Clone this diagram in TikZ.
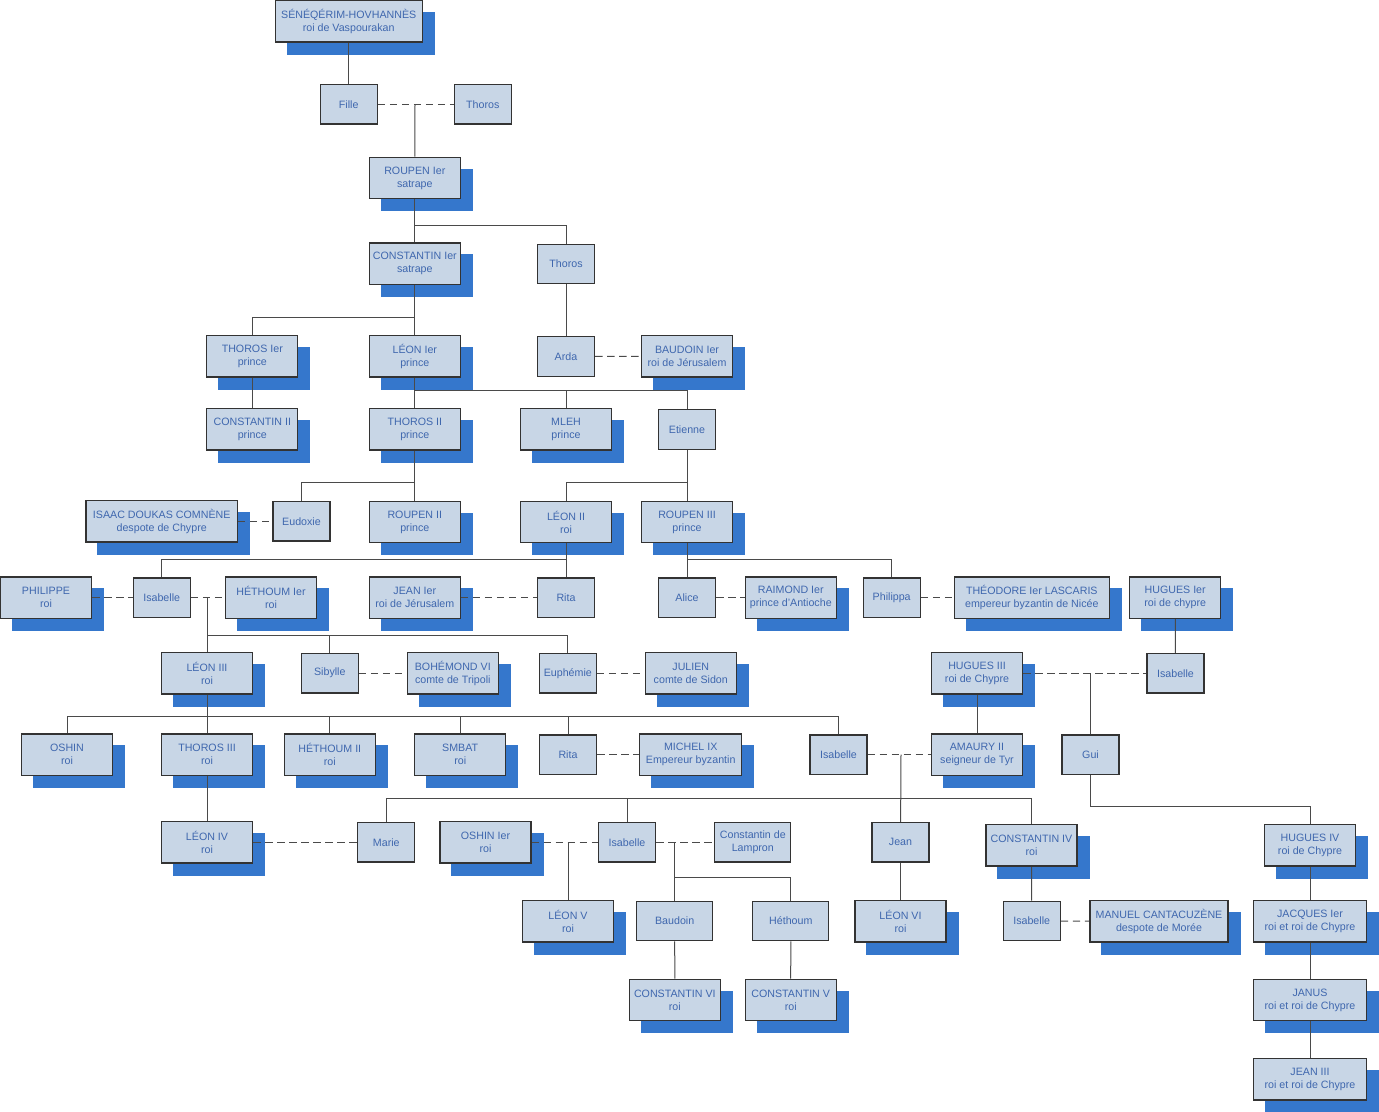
\documentclass[tikz,border=0pt]{standalone}
\usepackage{fontspec}
\setmainfont{Liberation Sans}
\usetikzlibrary{backgrounds}

\definecolor{boxc}{HTML}{C8D6E6}
\definecolor{shadc}{HTML}{3577CC}
\definecolor{txtc}{HTML}{3F67AE}
\definecolor{edgec}{HTML}{333333}
\definecolor{linkc}{HTML}{4A4A4A}

\tikzset{every picture/.style={line width=0.75pt}}
\tikzset{
  person/.style={draw=edgec, line width=1pt, fill=boxc, text=txtc, align=center, inner sep=1pt,
    font=\fontsize{8}{9.75}\selectfont, minimum width=91*0.75pt, minimum height=41.5*0.75pt},
  single/.style={person, minimum width=57*0.75pt, minimum height=39.5*0.75pt},
  bw/.style={minimum width=#1*0.75pt},
  kin/.style={draw=linkc, line width=0.75pt},
  spouse/.style={draw=linkc, line width=0.75pt, dash pattern={on 5.5pt off 3.5pt}}
}

\begin{document}
\begin{tikzpicture}[x=0.75pt,y=0.75pt,yscale=-1,xscale=1]
		\useasboundingbox (0,0) rectangle (1379,1112);
		
		% Persons, top rows
		\node[person, bw=147] (sen) at (348.7,21.2) {SÉNÉQÉRIM-HOVHANNÈS\\roi de Vaspourakan};
		\node[single] (fille) at (348.7,104.2) {Fille};
		\node[single] (thoros0) at (482.8,104.2) {Thoros};
		\node[person] (roupen1) at (414.8,178) {ROUPEN Ier\\satrape};
		\node[person] (const1) at (414.8,263.7) {CONSTANTIN Ier\\satrape};
		\node[single] (thorosB) at (566,264) {Thoros};
		\node[person] (thoros1) at (252.3,356.3) {THOROS Ier\\prince};
		\node[person] (leon1) at (414.8,356.3) {LÉON Ier\\prince};
		\node[single] (arda) at (566,356.5) {Arda};
		\node[person] (baudoin1) at (687,356.3) {BAUDOIN Ier\\roi de Jérusalem};
		\node[person] (const2) at (252.3,429.2) {CONSTANTIN II\\prince};
		\node[person] (thoros2) at (414.8,429.2) {THOROS II\\prince};
		\node[person] (mleh) at (566,429.2) {MLEH\\prince};
		\node[single] (etienne) at (687,429.5) {Etienne};
		\node[person, bw=151.3] (isaac) at (161.7,521.3) {ISAAC DOUKAS COMNÈNE\\despote de Chypre};
		\node[single] (eudoxie) at (301.5,521.3) {Eudoxie};
		\node[person] (roupen2) at (414.8,522) {ROUPEN II\\prince};
		\node[person] (leon2) at (566,522) {LÉON II\\roi};
		\node[person] (roupen3) at (687,522) {ROUPEN III\\prince};
		
		% Persons, middle rows
		\node[person] (philippe) at (46,597.6) {PHILIPPE\\roi};
		\node[single] (isabelle1) at (161.7,597.6) {Isabelle};
		\node[person] (hethoum1) at (271,597.6) {HÉTHOUM Ier\\roi};
		\node[person] (jean1) at (414.8,597.6) {JEAN Ier\\roi de Jérusalem};
		\node[single] (rita1) at (566,597.6) {Rita};
		\node[single] (alice) at (687,597.6) {Alice};
		\node[person] (raimond) at (790.8,597.6) {RAIMOND Ier\\prince d'Antioche};
		\node[single] (philippa) at (891.7,597.6) {Philippa};
		\node[person, bw=155] (theodore) at (1031.8,597.6) {THÉODORE Ier LASCARIS\\empereur byzantin de Nicée};
		\node[person] (hugues1) at (1175.2,597.6) {HUGUES Ier\\roi de chypre};
		\node[person] (leon3) at (207,673.2) {LÉON III\\roi};
		\node[single] (sibylle) at (329.8,673.2) {Sibylle};
		\node[person] (bohemond) at (452.8,673.2) {BOHÉMOND VI\\comte de Tripoli};
		\node[single] (euphemie) at (567.8,673.2) {Euphémie};
		\node[person] (julien) at (690.8,673.2) {JULIEN\\comte de Sidon};
		\node[person] (hugues3) at (977,673.3) {HUGUES III\\roi de Chypre};
		\node[single] (isabelle2) at (1175.5,673.3) {Isabelle};
		\node[person] (oshin) at (67,754.7) {OSHIN\\roi};
		\node[person] (thoros3) at (207,754.7) {THOROS III\\roi};
		\node[person] (hethoum2) at (329.8,754.7) {HÉTHOUM II\\roi};
		\node[person] (smbat) at (460.2,754.7) {SMBAT\\roi};
		\node[single] (rita2) at (568,754.7) {Rita};
		\node[person, bw=102] (michel) at (690.7,754.7) {MICHEL IX\\Empereur byzantin};
		\node[single] (isabelle3) at (838.5,754.7) {Isabelle};
		\node[person] (amaury) at (977,754.7) {AMAURY II\\seigneur de Tyr};
		\node[single] (gui) at (1090.5,754.7) {Gui};
		
		% Persons, bottom rows
		\node[person] (leon4) at (207,842.3) {LÉON IV\\roi};
		\node[single] (marie) at (386.3,842.3) {Marie};
		\node[person] (oshin1) at (485.5,842.3) {OSHIN Ier\\roi};
		\node[single] (isabelle4) at (627,842.3) {Isabelle};
		\node[single, bw=76] (constlamp) at (752.8,842.3) {Constantin de\\Lampron};
		\node[single] (jean) at (900.5,842.3) {Jean};
		\node[person] (const4) at (1031.5,845.3) {CONSTANTIN IV\\roi};
		\node[person] (hugues4) at (1310,845.3) {HUGUES IV\\roi de Chypre};
		\node[person] (leon5) at (568,921.3) {LÉON V\\roi};
		\node[single, bw=76] (baudoin) at (674.7,921) {Baudoin};
		\node[single, bw=76] (hethoum) at (790.8,921) {Héthoum};
		\node[person] (leon6) at (900.5,921.3) {LÉON VI\\roi};
		\node[single] (isabelle5) at (1031.7,921) {Isabelle};
		\node[person, bw=137.7] (manuel) at (1159,921.3) {MANUEL CANTACUZÈNE\\despote de Morée};
		\node[person, bw=113.3] (jacques) at (1310,921.3) {JACQUES Ier\\roi et roi de Chypre};
		\node[person] (const6) at (674.8,1000) {CONSTANTIN VI\\roi};
		\node[person] (const5) at (790.7,1000) {CONSTANTIN V\\roi};
		\node[person, bw=113.3] (janus) at (1310,1000) {JANUS\\roi et roi de Chypre};
		\node[person, bw=113.3] (jean3) at (1310,1079.2) {JEAN III\\roi et roi de Chypre};
		
		% Marriage points and buses
		\coordinate (m1) at (415,104.2);
		\coordinate (m2) at (207,597.6);
		\coordinate (m3) at (1090.5,673.3);
		\coordinate (m4) at (901,754.7);
		\coordinate (m5) at (568,842.3);
		\coordinate (m6) at (674.7,842.3);
		\coordinate (b1) at (414.8,226);
		\coordinate (b2) at (414.8,317.5);
		\coordinate (b3) at (414.8,391);
		\coordinate (b4) at (414.8,483);
		\coordinate (b5) at (687,483);
		\coordinate (b6) at (566,560);
		\coordinate (b7) at (687,560);
		\coordinate (b8) at (207,635.3);
		\coordinate (b9) at (207,716.5);
		\coordinate (b10) at (901,798.7);
		\coordinate (b11) at (1090.5,806.7);
		\coordinate (b12) at (674.7,877.5);
		
		\begin{scope}[on background layer]
		%Shadows
		\foreach \n in {sen,roupen1,const1,thoros1,leon1,baudoin1,const2,thoros2,mleh,isaac,roupen2,leon2,roupen3,
		  philippe,hethoum1,jean1,raimond,theodore,hugues1,leon3,bohemond,julien,hugues3,oshin,thoros3,hethoum2,
		  smbat,michel,amaury,leon4,oshin1,const4,hugues4,leon5,leon6,manuel,jacques,const6,const5,janus,jean3}
		  \fill[shadc] ([shift={(12,12)}]\n.north west) rectangle ([shift={(12,12)}]\n.south east);
		
		%Descent lines
		\draw[kin] (sen) -- (fille);
		\draw[kin] (m1) -- (roupen1);
		\draw[kin] (roupen1) -- (b1) -| (thorosB);
		\draw[kin] (b1) -- (const1);
		\draw[kin] (const1) -- (b2) -| (thoros1);
		\draw[kin] (b2) -- (leon1);
		\draw[kin] (thorosB) -- (arda);
		\draw[kin] (thoros1) -- (const2);
		\draw[kin] (leon1) -- (b3) -| (etienne);
		\draw[kin] (b3) -| (mleh);
		\draw[kin] (b3) -- (thoros2);
		\draw[kin] (thoros2) -- (b4) -| (eudoxie);
		\draw[kin] (b4) -- (roupen2);
		\draw[kin] (etienne) -- (b5) -| (leon2);
		\draw[kin] (b5) -- (roupen3);
		\draw[kin] (leon2) -- (b6) -| (isabelle1);
		\draw[kin] (b6) -- (rita1);
		\draw[kin] (roupen3) -- (b7) -| (philippa);
		\draw[kin] (b7) -- (alice);
		\draw[kin] (m2) -- (leon3);
		\draw[kin] (b8) -| (sibylle);
		\draw[kin] (b8) -| (euphemie);
		\draw[kin] (hugues1) -- (isabelle2);
		\draw[kin] (m3) -- (gui);
		\draw[kin] (hugues3) -- (amaury);
		\draw[kin] (leon3) -- (thoros3);
		\foreach \c in {oshin,hethoum2,smbat,rita2,isabelle3}
		  \draw[kin] (b9) -| (\c);
		\draw[kin] (thoros3) -- (leon4);
		\draw[kin] (m4) -- (jean);
		\foreach \c in {marie,isabelle4,const4}
		  \draw[kin] (b10) -| (\c);
		\draw[kin] (gui) -- (b11) -| (hugues4);
		\draw[kin] (m5) -- (leon5);
		\draw[kin] (m6) -- (baudoin);
		\draw[kin] (b12) -| (hethoum);
		\draw[kin] (baudoin) -- (const6);
		\draw[kin] (hethoum) -- (const5);
		\draw[kin] (jean) -- (leon6);
		\draw[kin] (const4) -- (isabelle5);
		\draw[kin] (hugues4) -- (jacques);
		\draw[kin] (jacques) -- (janus);
		\draw[kin] (janus) -- (jean3);
		
		%Marriage lines
		\draw[spouse] (fille) -- (thoros0);
		\draw[spouse] (arda) -- (baudoin1);
		\draw[spouse] (isaac) -- (eudoxie);
		\draw[spouse] (philippe) -- (isabelle1);
		\draw[spouse] (isabelle1) -- (hethoum1);
		\draw[spouse] (jean1) -- (rita1);
		\draw[spouse] (alice) -- (raimond);
		\draw[spouse] (philippa) -- (theodore);
		\draw[spouse] (sibylle) -- (bohemond);
		\draw[spouse] (euphemie) -- (julien);
		\draw[spouse] (hugues3) -- (isabelle2);
		\draw[spouse] (rita2) -- (michel);
		\draw[spouse] (isabelle3) -- (amaury);
		\draw[spouse] (leon4) -- (marie);
		\draw[spouse] (oshin1) -- (isabelle4);
		\draw[spouse] (isabelle4) -- (constlamp);
		\draw[spouse] (isabelle5) -- (manuel);
		\end{scope}
		
	\end{tikzpicture}
\end{document}
